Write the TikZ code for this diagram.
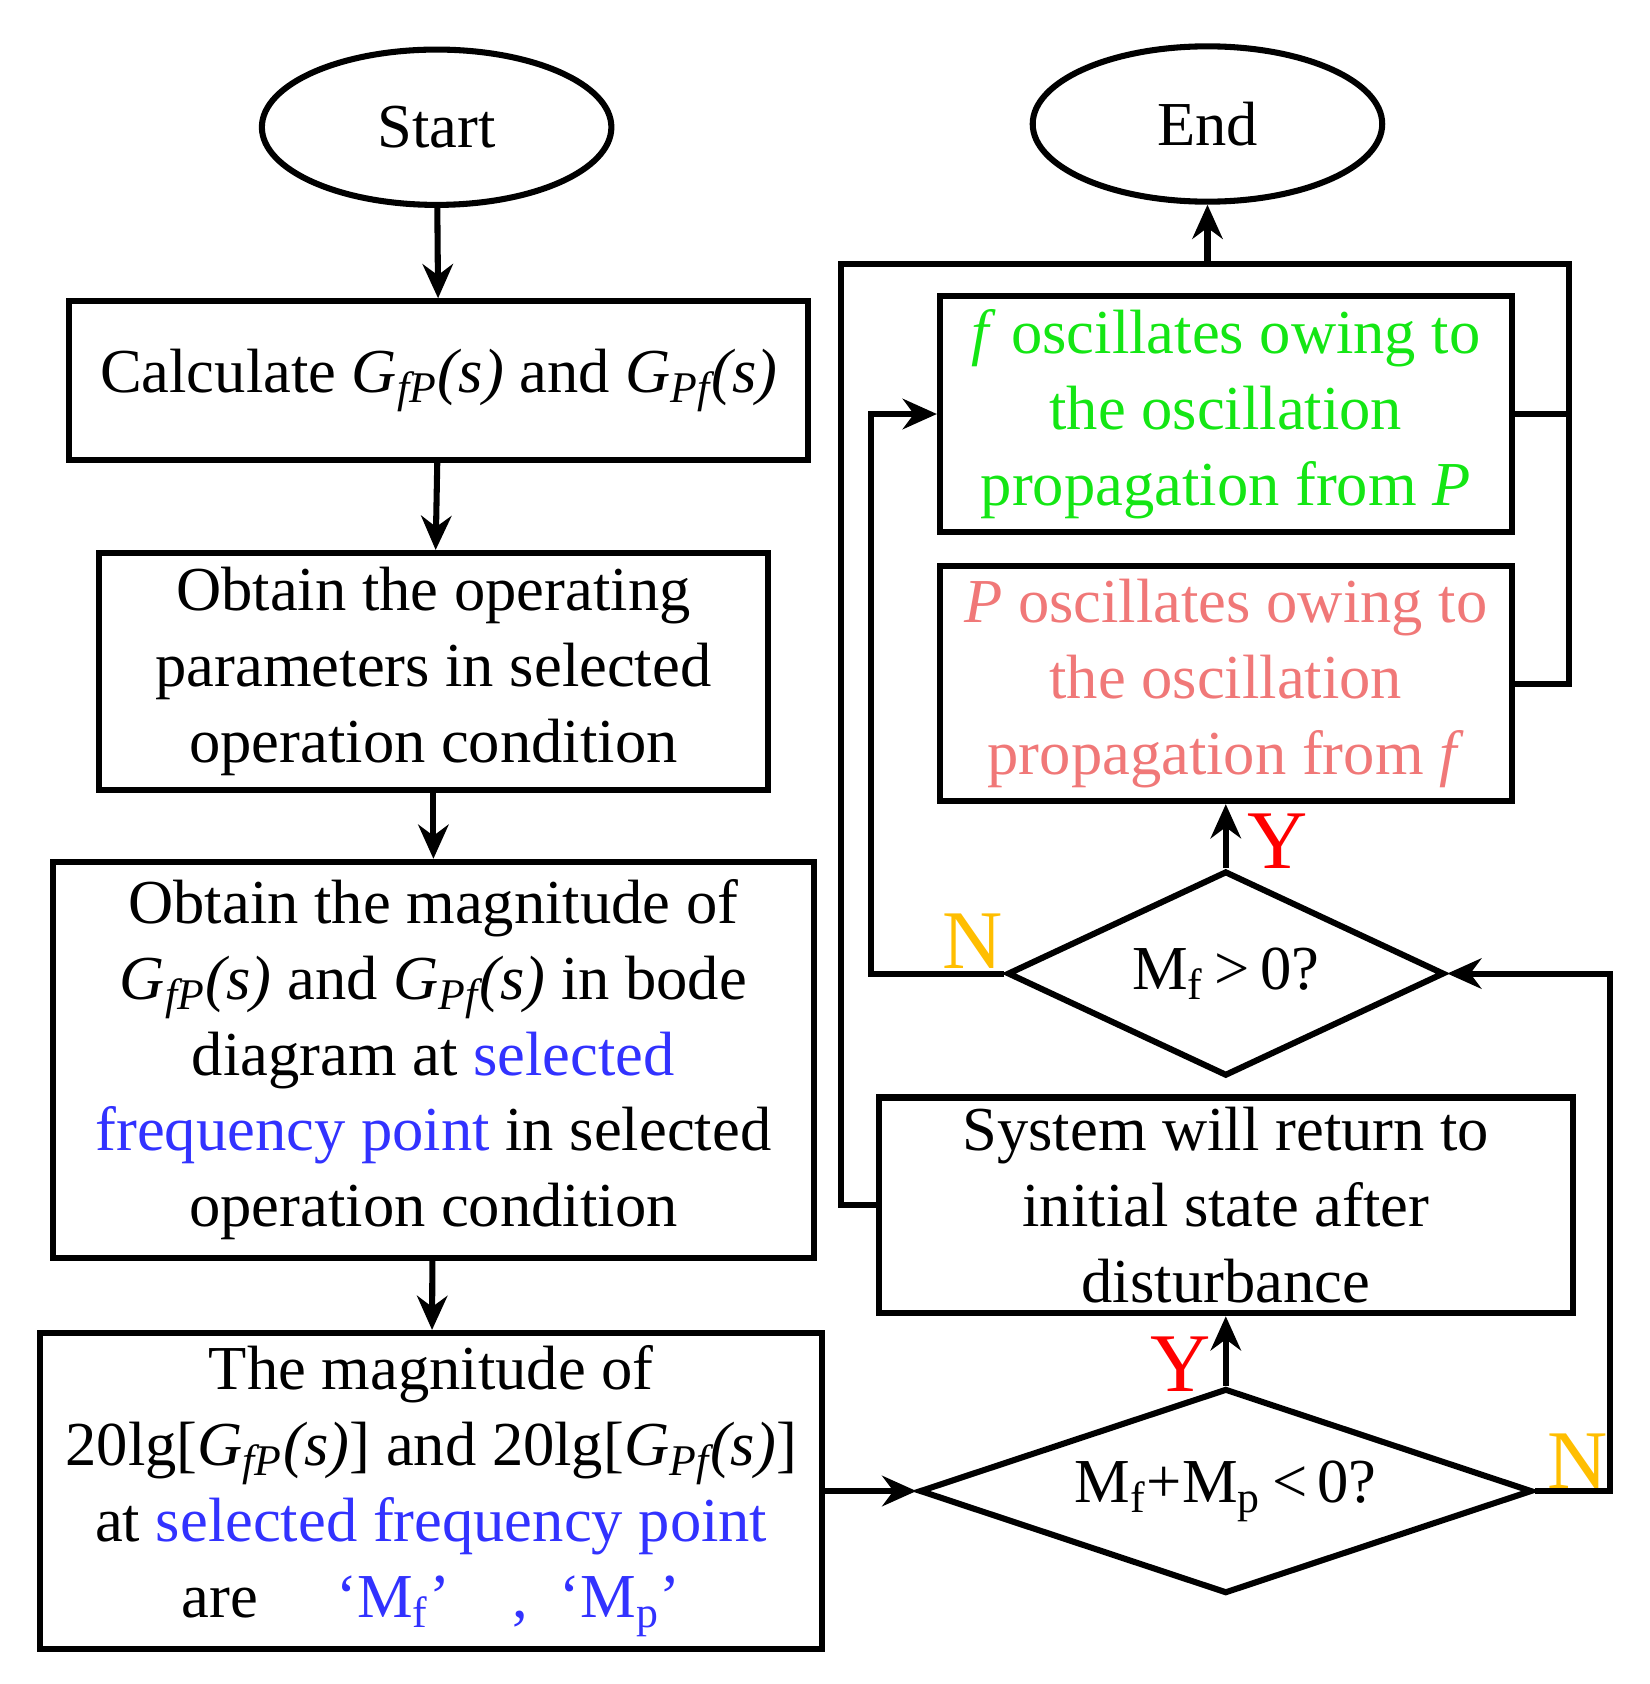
\documentclass[tikz,border=0pt]{standalone}
\usepackage{fontspec}
\setmainfont{Liberation Serif}
\usetikzlibrary{shapes.geometric,arrows.meta}
\definecolor{okgreen}{RGB}{20,230,20}
\definecolor{pinkred}{RGB}{240,120,120}
\definecolor{selblue}{RGB}{50,50,255}
\definecolor{nyellow}{RGB}{255,190,0}
\tikzset{
  flow/.style={line width=1.6pt,-{Stealth[length=9pt,width=8pt]}},
  line/.style={line width=1.6pt},
  term/.style={ellipse,draw,line width=1.6pt,minimum width=3.24cm,minimum height=1.44cm},
  proc/.style={rectangle,draw,line width=1.6pt,align=center,inner sep=0pt},
  dec/.style={diamond,draw,line width=1.6pt,inner sep=0pt},
  lab/.style={font=\fontsize{22}{24}\selectfont}
}
\newcommand{\Gfp}{\textit{G\textsubscript{fP}(s)}}
\newcommand{\Gpf}{\textit{G\textsubscript{Pf}(s)}}
\begin{document}
\begin{tikzpicture}[x=0.01cm,y=-0.01cm,font=\fontsize{16.5}{20}\selectfont]
\useasboundingbox (0,0) rectangle (1530,1562);
\node[term] (start) at (405,118) {Start};
\node[term] (end) at (1120,115) {End};
\node[proc,minimum width=6.85cm,minimum height=1.47cm] (calc) at (407,353) {Calculate \Gfp{} and \Gpf};
\node[proc,minimum width=6.2cm,minimum height=2.2cm] (oper) at (402,623) {Obtain the operating\\parameters in selected\\operation condition};
\node[proc,minimum width=7.06cm,minimum height=3.67cm] (bode) at (402,983) {Obtain the magnitude of\\\Gfp{} and \Gpf{} in bode\\diagram at \textcolor{selblue}{selected}\\\textcolor{selblue}{frequency point} in selected\\operation condition};
\node[proc,minimum width=7.25cm,minimum height=2.93cm] (magn) at (400,1383) {The magnitude of\\20lg[\Gfp] and 20lg[\Gpf]\\at \textcolor{selblue}{selected frequency point}\\are \quad\textcolor{selblue}{‘M\textsubscript{f}’\quad, \ ‘M\textsubscript{p}’}};
\node[dec,shape aspect=3,minimum width=5.68cm,minimum height=1.9cm] (sum) at (1137,1383) {M\textsubscript{f}+M\textsubscript{p}\,<\,0?};
\node[proc,minimum width=6.43cm,minimum height=2.0cm] (stable) at (1137,1118) {System will return to\\initial state after\\disturbance};
\node[dec,shape aspect=2,minimum width=4.05cm,minimum height=1.9cm] (mf) at (1137,903) {M\textsubscript{f}\,>\,0?};
\node[proc,minimum width=5.3cm,minimum height=2.18cm,text=pinkred] (posc) at (1137,634) {\textit{P} oscillates owing to\\the oscillation\\propagation from \textit{f}};
\node[proc,minimum width=5.3cm,minimum height=2.18cm,text=okgreen] (fosc) at (1137,384) {\textit{f} oscillates owing to\\the oscillation\\propagation from \textit{P}};
\coordinate (top) at (1120,245);
% main column
\draw[flow] (start) -- (calc);
\draw[flow] (calc) -- (oper);
\draw[flow] (oper) -- (bode);
\draw[flow] (bode) -- (magn);
\draw[flow] (magn) -- (sum);
% decisions
\draw[flow] (sum) -- (stable);
\node[lab,text=red] at (1095,1265) {Y};
\draw[flow] (mf) -- (posc);
\node[lab,text=red] at (1185,780) {Y};
\draw[flow] (sum.east) -- (1493,1383) -- (1493,903) -- (mf.east);
\node[lab,text=nyellow] at (1463,1355) {N};
\draw[flow] (mf.west) -- (808,903) -- (808,384) -- (fosc.west);
\node[lab,text=nyellow] at (902,873) {N};
% collector to End
\draw[line] (fosc.east) -- (1455,384);
\draw[line] (posc.east) -- (1455,634) -- (1455,245) -- (780,245) -- (780,1118) -- (stable.west);
\draw[flow] (top) -- (end);
\end{tikzpicture}
\end{document}
